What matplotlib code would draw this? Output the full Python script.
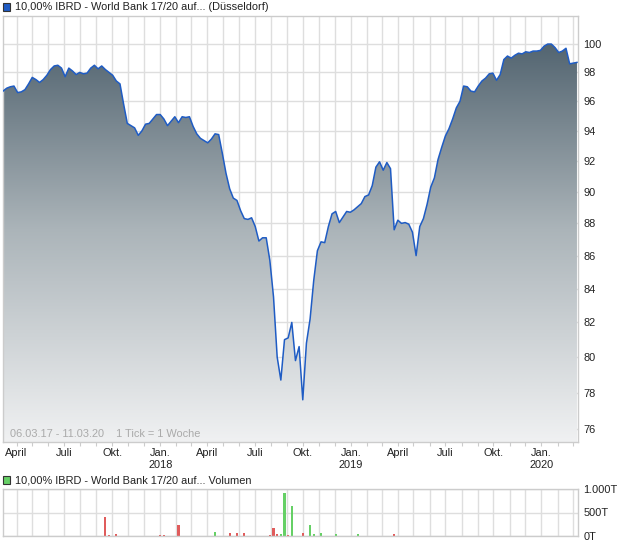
import numpy as np
import pandas as pd
import matplotlib
matplotlib.use("Agg")
import matplotlib.pyplot as plt
from matplotlib.colors import LinearSegmentedColormap
from matplotlib.patches import Polygon, Rectangle
from matplotlib.image import AxesImage
from matplotlib.ticker import FixedLocator, FixedFormatter, NullLocator
import matplotlib.dates as mdates

plt.rcParams["font.family"] = ["Liberation Sans", "DejaVu Sans"]

# Wochenkurse ab 06.03.2017 (1 Tick = 1 Woche)
start = "2017-03-06"
kurs = [
    96.7, 96.9, 97.0, 97.05, 96.6, 96.65, 96.8, 97.2, 97.65, 97.5,
    97.3, 97.5, 97.8, 98.2, 98.45, 98.5, 98.3, 97.7, 98.3, 98.1,
    97.85, 98.0, 97.9, 97.95, 98.3, 98.5, 98.25, 98.45, 98.2, 98.0,
    97.8, 97.4, 97.2, 95.8, 94.5, 94.35, 94.2, 93.7, 94.0, 94.45,
    94.5, 94.8, 95.1, 95.1, 94.8, 94.35, 94.65, 94.95, 94.55, 94.95,
    94.9, 94.95, 94.3, 93.8, 93.5, 93.35, 93.2, 93.45, 93.8, 93.75,
    92.5, 91.2, 90.2, 89.6, 89.45, 88.8, 88.3, 88.25, 88.35, 87.8,
    86.9, 87.1, 87.1, 85.7, 83.5, 80.0, 78.7, 81.0, 81.1, 82.0,
    79.8, 80.6, 77.6, 80.8, 82.2, 84.5, 86.3, 86.85, 86.8, 87.8,
    88.6, 88.75, 88.05, 88.4, 88.75, 88.7, 88.85, 89.05, 89.25, 89.7,
    89.8, 90.4, 91.6, 91.95, 91.4, 91.9, 91.5, 87.6, 88.2, 88.0,
    88.05, 87.95, 87.45, 86.0, 87.8, 88.3, 89.2, 90.3, 90.9, 92.1,
    92.9, 93.65, 94.15, 94.8, 95.55, 96.0, 97.05, 97.0, 96.7, 96.65,
    97.05, 97.4, 97.6, 97.9, 97.95, 97.45, 97.85, 98.9, 99.15, 99.0,
    99.2, 99.35, 99.3, 99.45, 99.4, 99.5, 99.5, 99.55, 99.85, 100.0,
    100.0, 99.75, 99.4, 99.5, 99.7, 98.6, 98.65, 98.7,
]

# Volumen (in Tausend), Woche als Index in kurs
vol_woche = [28, 29, 31, 43, 44, 48, 57, 58, 62, 64, 66, 71, 73, 74, 75,
             76, 77, 78, 79, 82, 84, 85, 87, 91, 97, 107]
vol_wert = [400, 15, 35, 15, 12, 234, 10, 85, 64, 64, 64, 10, 30, 170, 50,
            50, 920, 30, 640, 64, 234, 45, 64, 50, 40, 40]
vol_farbe = ["r", "r", "r", "r", "r", "r", "g", "g", "r", "r", "r", "g", "r", "r", "r",
             "g", "g", "r", "g", "r", "g", "g", "g", "g", "g", "r"]

y_ticks = [76, 78, 80, 82, 84, 86, 88, 90, 92, 94, 96, 98, 100]
vol_ticks = [0, 500, 1000]
vol_labels = ["0T", "500T", "1.000T"]
monat_namen = {1: "Jan.", 4: "April", 7: "Juli", 10: "Okt."}

titel = "10,00% IBRD - World Bank 17/20 auf... (Düsseldorf)"
titel_vol = "10,00% IBRD - World Bank 17/20 auf... Volumen"
zeitraum = "06.03.17 - 11.03.20    1 Tick = 1 Woche"

W, H = 620, 546
dates = pd.date_range(start, periods=len(kurs), freq="7D")
x0 = pd.Timestamp("2017-03-06")
x1 = pd.Timestamp("2020-03-11")
monate = pd.date_range("2017-04-01", "2020-03-01", freq="MS")
monat_labels = []
for m in monate:
    if m.month in monat_namen:
        s = monat_namen[m.month]
        if m.month == 1:
            s += "\n%d" % m.year
        monat_labels.append(s)
    else:
        monat_labels.append("")

grid_col = "#dedede"
rahmen = "#cccccc"
fs = 7.9

fig = plt.figure(figsize=(W / 100, H / 100), dpi=100)

# Kurs-Chart
ax = fig.add_axes([3 / W, (H - 442) / H, 575 / W, 426 / H])
ax.set_yscale("log")
ax.set_axisbelow(True)

xs = mdates.date2num(dates)
verts = [(xs[0], 60)] + list(zip(xs, kurs)) + [(xs[-1], 60)]
clip = Polygon(verts, closed=True, transform=ax.transData,
               facecolor="none", edgecolor="none")
ax.add_patch(clip)

cmap = LinearSegmentedColormap.from_list("verlauf", ["#f0f1f2", "#abb4b9", "#465966"])
grad = np.linspace(0, 1, 256).reshape(-1, 1)
im = AxesImage(ax, cmap=cmap, extent=(0, 1, 0, 1), origin="lower",
               transform=ax.transAxes, interpolation="bilinear")
im.set_data(grad)
im.set_zorder(1)
ax.add_image(im)
im.set_clip_path(clip)

ax.plot(dates, kurs, color="#1f5cc4", linewidth=1.1, zorder=3)

ax.set_xlim(x0, x1)
ax.set_ylim(75.3, 102.02)

ax.yaxis.set_major_locator(FixedLocator(y_ticks))
ax.yaxis.set_major_formatter(FixedFormatter([str(v) for v in y_ticks]))
ax.yaxis.set_minor_locator(NullLocator())
ax.yaxis.tick_right()
ax.tick_params(axis="y", length=0, pad=4, labelsize=fs, colors="#222222")

ax.xaxis.set_major_locator(FixedLocator(mdates.date2num(monate)))
ax.xaxis.set_major_formatter(FixedFormatter(monat_labels))
ax.tick_params(axis="x", length=3, width=0.8, color=rahmen, pad=1,
               labelsize=fs, labelcolor="#222222")
for lab in ax.get_xticklabels():
    lab.set_linespacing(1.35)

ax.grid(True, color=grid_col, linewidth=1.0)
for sp in ax.spines.values():
    sp.set_color(rahmen)
    sp.set_linewidth(1.0)

ax.text(7 / 575, 1 - (434 - 16) / 426, zeitraum, transform=ax.transAxes,
        fontsize=fs, color="#aaaaaa", va="center", ha="left", zorder=4)

# Volumen-Chart
ax2 = fig.add_axes([3 / W, (H - 536) / H, 575 / W, 47 / H])
ax2.set_axisbelow(True)
farben = {"r": "#e05c5c", "g": "#66d066"}
ax2.bar(dates[vol_woche], vol_wert, width=4.2, linewidth=0,
        color=[farben[c] for c in vol_farbe], zorder=2)
ax2.set_xlim(x0, x1)
ax2.set_ylim(0, 1000)
ax2.yaxis.set_major_locator(FixedLocator(vol_ticks))
ax2.yaxis.set_major_formatter(FixedFormatter(vol_labels))
ax2.yaxis.tick_right()
ax2.tick_params(axis="y", length=0, pad=4, labelsize=fs, colors="#222222")
ax2.xaxis.set_major_locator(FixedLocator(mdates.date2num(monate)))
ax2.tick_params(axis="x", length=0, labelbottom=False)
ax2.grid(True, color=grid_col, linewidth=1.0)
for sp in ax2.spines.values():
    sp.set_color(rahmen)
    sp.set_linewidth(1.0)

# Titel mit Farbquadrat
fig.patches.append(Rectangle((3 / W, 1 - 11 / H), 7 / W, 8 / H, transform=fig.transFigure,
                             facecolor="#1f5cc4", edgecolor="#333333", linewidth=0.8))
fig.text(15 / W, 1 - 7.5 / H, titel, fontsize=fs, color="#222222", va="center")
fig.patches.append(Rectangle((3 / W, 1 - 484 / H), 7 / W, 8 / H, transform=fig.transFigure,
                             facecolor="#66d066", edgecolor="#333333", linewidth=0.8))
fig.text(15 / W, 1 - 480.5 / H, titel_vol, fontsize=fs, color="#222222", va="center")

fig.savefig("out.png", dpi=100)
